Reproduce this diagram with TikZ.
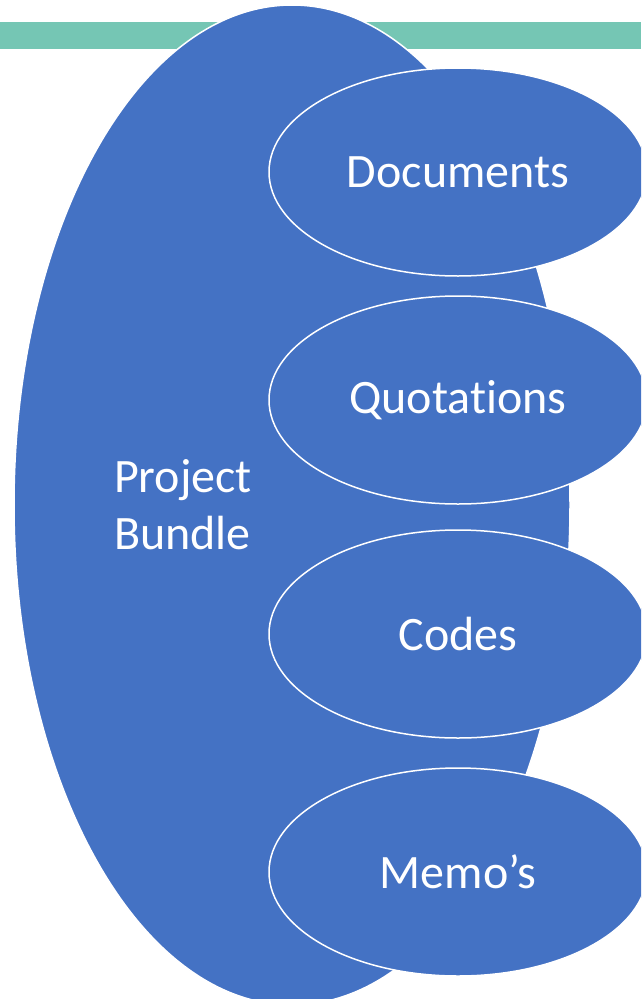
\documentclass[tikz,border=0pt]{standalone}
\usepackage{fontspec}
\setmainfont{Carlito}[Ligatures={NoCommon,NoRequired,NoContextual}, RawFeature={-calt}]
\usetikzlibrary{shapes.geometric}
\definecolor{bundleblue}{RGB}{68,114,196}
\definecolor{barteal}{RGB}{117,198,180}
\begin{document}
\begin{tikzpicture}[x=1pt, y=-1pt,
		part/.style={ellipse, fill=bundleblue, draw=white, line width=1.5pt,
			minimum width=378pt, minimum height=208pt, inner sep=0pt,
			text=white, font=\fontsize{48}{57}\selectfont}]
		\clip (0,0) rectangle (641,999);

		% Stolpe
		\fill[barteal] (0,22) rectangle (641,49);

		% Prosjektbunt
		\node[ellipse, fill=bundleblue, draw=white, line width=1.5pt,
			minimum width=556pt, minimum height=1000pt] (bundle) at (292,505) {};
		\node[text=white, align=left, font=\fontsize{48}{57}\selectfont] (bundletext) at (183,505) {Project\\Bundle};

		% Elementer
		\node[part] (documents) at (458,172) {Documents};
		\node[part] (quotations) at (458,400) {Quotat\kern0pt ions};
		\node[part] (codes) at (458,634) {Codes};
		\node[part] (memos) at (458,872) {Memo’s};
	\end{tikzpicture}
\end{document}
